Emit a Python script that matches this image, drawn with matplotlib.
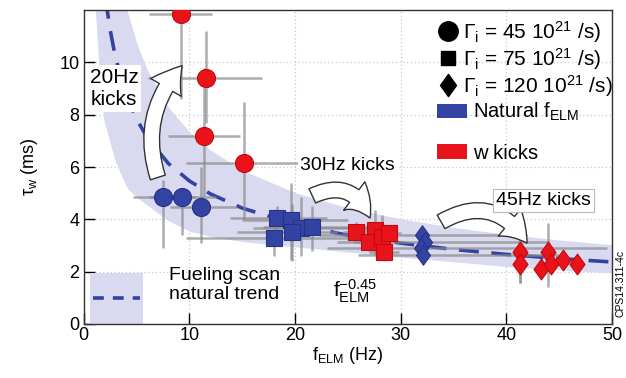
import matplotlib
matplotlib.use("Agg")
import matplotlib.pyplot as plt
from matplotlib.lines import Line2D
from matplotlib.patches import Patch, FancyArrowPatch, Rectangle
from matplotlib.path import Path
import numpy as np

plt.rcParams['font.family'] = ['Liberation Sans', 'DejaVu Sans']
plt.rcParams['mathtext.fontset'] = 'custom'
plt.rcParams['mathtext.rm'] = 'Liberation Sans'
plt.rcParams['mathtext.it'] = 'Liberation Sans:italic'
plt.rcParams['mathtext.default'] = 'regular'

# ---------------- data ----------------
# natural f_ELM, circles (Gamma_i = 45)
bc_f = [7.5, 9.3, 11.1]
bc_tau = [4.85, 4.85, 4.46]
bc_flo = [4.7, 6.2, 8.2]
bc_fhi = [10.5, 12.5, 14.5]
bc_tlo = [2.9, 3.4, 3.1]
bc_thi = [5.5, 5.2, 6.0]

# kicks, circles
rc_f = [9.2, 11.6, 11.4, 15.2]
rc_tau = [11.85, 9.4, 7.2, 6.15]
rc_flo = [6.2, 6.1, 8.0, 9.7]
rc_fhi = [12.1, 16.9, 14.8, 20.4]
rc_tlo = [8.6, 7.7, 4.9, 4.0]
rc_thi = [12.5, 11.2, 9.8, 8.5]

# natural, squares (Gamma_i = 75)
bs_f = [18.3, 19.6, 18.0, 20.6, 19.7, 21.6]
bs_tau = [4.05, 3.97, 3.30, 3.66, 3.50, 3.70]
bs_flo = [13.8, 15.0, 9.7, 16.0, 14.5, 17.0]
bs_fhi = [23.0, 25.0, 26.0, 27.0, 24.0, 29.0]
bs_tlo = [3.0, 2.45, 2.6, 2.6, 2.4, 2.8]
bs_thi = [4.5, 5.4, 4.0, 4.85, 4.6, 4.5]

# kicks, squares
rs_f = [25.8, 27.6, 27.0, 28.2, 28.9, 28.4]
rs_tau = [3.52, 3.59, 3.14, 3.31, 3.46, 2.75]
rs_flo = [24.5, 26.0, 25.5, 27.0, 27.5, 27.0]
rs_fhi = [27.0, 29.0, 28.5, 29.5, 30.0, 29.8]
rs_tlo = [3.2, 2.63, 2.8, 3.0, 3.1, 2.4]
rs_thi = [3.9, 4.35, 3.5, 4.16, 3.8, 3.1]

# natural, diamonds (Gamma_i = 120)
bd_f = [32.0, 32.3, 31.9, 32.1]
bd_tau = [3.40, 3.15, 2.90, 2.65]
bd_flo = [22.3, 24.0, 23.0, 26.0]
bd_fhi = [42.0, 44.0, 49.5, 45.0]
bd_tlo = [3.2, 2.95, 2.7, 2.45]
bd_thi = [3.6, 3.35, 3.1, 2.85]

# kicks, diamonds
rd_f = [41.3, 41.3, 43.9, 43.3, 44.2, 45.4, 46.7]
rd_tau = [2.75, 2.30, 2.75, 2.10, 2.30, 2.45, 2.30]
rd_flo = [40.8, 40.8, 43.4, 42.8, 43.7, 44.9, 46.2]
rd_fhi = [41.8, 41.8, 44.4, 43.8, 44.7, 45.9, 47.2]
rd_tlo = [1.55, 1.55, 1.4, 1.8, 2.0, 2.2, 2.1]
rd_thi = [3.5, 3.0, 3.85, 2.4, 2.6, 2.7, 2.5]

# natural trend (fueling scan) and its band
trend_f = [2.0, 2.5, 3, 4, 5, 6, 8, 10, 12, 15, 20, 25, 30, 35, 40, 45, 50]
trend_tau = [12.6, 11.25, 10.2, 8.8, 7.84, 7.13, 6.14, 5.47, 4.97, 4.43,
             3.81, 3.39, 3.09, 2.85, 2.66, 2.50, 2.37]
band_f = [1.1, 1.5, 1.9, 3, 4.1, 5, 6, 8, 10, 12, 15, 20, 25, 30, 35, 40, 45, 50]
band_lo = [12, 9.5, 7.8, 6.2, 5.2, 4.85, 4.55, 3.95, 3.55, 3.35, 3.15, 2.95,
           2.75, 2.55, 2.38, 2.2, 2.07, 1.95]
band_hi = [12, 12, 12, 12, 12, 10.75, 9.73, 8.3, 7.34, 6.65, 5.88, 5.02,
           4.44, 4.02, 3.69, 3.43, 3.21, 3.03]

x_ticks = [0, 10, 20, 30, 40, 50]
y_ticks = [0, 2, 4, 6, 8, 10]

BLUE = '#3343a3'
BLUE_E = '#25338a'
RED = '#e8131b'
RED_E = '#c40a10'
BAND = '#d9d9ef'
GRAY = '#8a8a8a'

diamond = Path([(0, 1), (0.72, 0), (0, -1), (-0.72, 0), (0, 1)],
               [Path.MOVETO, Path.LINETO, Path.LINETO, Path.LINETO, Path.CLOSEPOLY])

fig = plt.figure(figsize=(6.26, 3.78), dpi=100)
ax = fig.add_axes([0.1337, 0.1429, 0.9776 - 0.1337, 0.9735 - 0.1429])
ax.set_xlim(0, 50)
ax.set_ylim(0, 12)

ax.fill_between(band_f, band_lo, band_hi, color=BAND, lw=0, zorder=1)
ax.plot(trend_f, trend_tau, color=BLUE, lw=2.6, ls=(0, (5.5, 3.5)), zorder=2)

def group(f, t, flo, fhi, tlo, thi, marker, ms, fc, ec):
    f = np.array(f); t = np.array(t)
    xerr = [f - np.array(flo), np.array(fhi) - f]
    yerr = [t - np.array(tlo), np.array(thi) - t]
    ax.errorbar(f, t, xerr=xerr, yerr=yerr, fmt='none', ecolor=GRAY,
                elinewidth=1.8, alpha=0.7, zorder=3)
    ax.plot(f, t, ls='none', marker=marker, ms=ms, mfc=fc, mec=ec, mew=0.8,
            zorder=5)

group(bc_f, bc_tau, bc_flo, bc_fhi, bc_tlo, bc_thi, 'o', 13, BLUE, BLUE_E)
group(rc_f, rc_tau, rc_flo, rc_fhi, rc_tlo, rc_thi, 'o', 13, RED, RED_E)
group(bs_f, bs_tau, bs_flo, bs_fhi, bs_tlo, bs_thi, 's', 11, BLUE, BLUE_E)
group(rs_f, rs_tau, rs_flo, rs_fhi, rs_tlo, rs_thi, 's', 11, RED, RED_E)
group(bd_f, bd_tau, bd_flo, bd_fhi, bd_tlo, bd_thi, diamond, 14, BLUE, BLUE_E)
group(rd_f, rd_tau, rd_flo, rd_fhi, rd_tlo, rd_thi, diamond, 15, RED, RED_E)

# curved arrows
arrow_style = "simple,head_width=1.7,head_length=1.3,tail_width=0.75"
for (p0, p1, rad) in [((7.1, 5.5), (9.5, 9.95), -0.3),
                      ((21.4, 4.85), (27.2, 3.95), -0.55),
                      ((33.6, 3.85), (42.1, 3.0), -0.5)]:
    arr = FancyArrowPatch(p0, p1, connectionstyle=f"arc3,rad={rad}",
                          arrowstyle=arrow_style, mutation_scale=15,
                          fc='white', ec='#333333', lw=1.0, zorder=6)
    ax.add_patch(arr)

# annotations
ax.text(2.86, 9.0, "20Hz\nkicks", ha='center', va='center', fontsize=15,
        linespacing=1.15, zorder=7,
        bbox=dict(boxstyle='square,pad=0.15', fc='white', ec='none'))
ax.text(20.5, 6.07, "30Hz kicks", ha='left', va='center', fontsize=14,
        zorder=7, bbox=dict(boxstyle='square,pad=0.1', fc='white', ec='none'))
ax.text(39.0, 4.73, "45Hz kicks", ha='left', va='center', fontsize=14,
        zorder=7, bbox=dict(boxstyle='square,pad=0.15', fc='white', ec='#bbbbbb',
                             lw=0.8))
ax.text(8.05, 1.49, "Fueling scan\nnatural trend", ha='left', va='center',
        fontsize=14, linespacing=1.1, zorder=7)
ax.text(23.6, 1.25, r"$\mathrm{f}_{\mathrm{ELM}}^{-0.45}$", ha='left',
        va='center', fontsize=15, zorder=7)

# small key for the band / trend
ax.add_patch(Rectangle((0.6, 0.0), 5.0, 1.95, fc=BAND, ec='none', zorder=1))
ax.plot([0.9, 5.3], [1.0, 1.0], color=BLUE, lw=2.6, ls=(0, (3, 2.5)), zorder=2)

# axes styling
ax.set_xticks(x_ticks)
ax.set_yticks(y_ticks)
ax.tick_params(direction='in', length=8, width=1, labelsize=13, pad=2,
               top=False, right=False)
ax.tick_params(axis='y', pad=3)
ax.grid(True, ls=(0, (1, 2)), color='#c8c8c8', lw=0.9)
ax.set_axisbelow(True)
for s in ax.spines.values():
    s.set_linewidth(1.0)
    s.set_color('#333333')
ax.set_xlabel(r"f$_{\mathrm{ELM}}$ (Hz)", fontsize=13, labelpad=1)
ax.set_ylabel(r"τ$_{\mathrm{w}}$ (ms)", fontsize=13, labelpad=14)

# legends
m_handles = [
    Line2D([], [], ls='none', marker='o', ms=14, color='black'),
    Line2D([], [], ls='none', marker='s', ms=10, color='black'),
    Line2D([], [], ls='none', marker=diamond, ms=16, color='black'),
]
m_labels = [
    r"$\Gamma_{\mathrm{i}}$ = 45 10$^{21}$ /s)",
    r"$\Gamma_{\mathrm{i}}$ = 75 10$^{21}$ /s)",
    r"$\Gamma_{\mathrm{i}}$ = 120 10$^{21}$ /s)",
]
leg1 = ax.legend(m_handles, m_labels, loc='upper right', frameon=False,
                 fontsize=15, handlelength=1.0, handletextpad=0.25,
                 labelspacing=0.05, borderaxespad=0.0, borderpad=0.2,
                 bbox_to_anchor=(1.01, 0.985))
leg1.set_zorder(8)
ax.add_artist(leg1)

p_handles = [Patch(fc=BLUE, ec='none'), Patch(fc=RED, ec='none')]
p_labels = [r"Natural f$_{\mathrm{ELM}}$", "w kicks"]
leg2 = ax.legend(p_handles, p_labels, loc='upper left', frameon=False,
                 fontsize=14.5, handlelength=1.5, handleheight=0.7,
                 handletextpad=0.3, labelspacing=1.0, borderaxespad=0.0,
                 borderpad=0.0, bbox_to_anchor=(0.668, 0.71))
leg2.set_zorder(8)

fig.text(0.992, 0.25, "CPS14.311-4c", rotation=90, fontsize=7.5,
         ha='center', va='center')

fig.savefig("out.png", dpi=100)
